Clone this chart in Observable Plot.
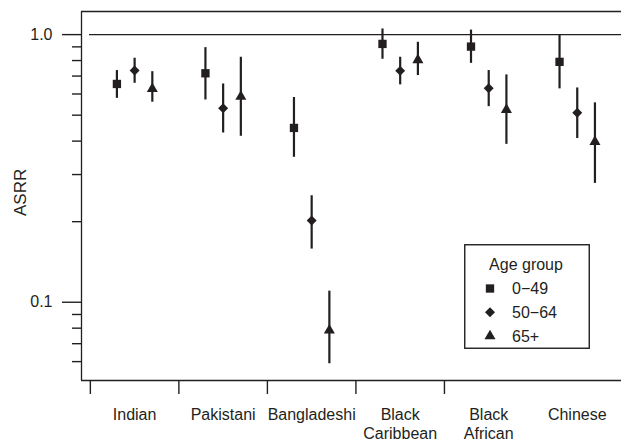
<!DOCTYPE html>
<html>
<head>
<meta charset="utf-8">
<script src="https://cdn.jsdelivr.net/npm/d3@7"></script>
<script src="https://cdn.jsdelivr.net/npm/@observablehq/plot@0.6"></script>
<style>
  html, body { margin: 0; padding: 0; background: #fff; overflow: hidden; }
  #wrap { position: relative; width: 621px; height: 441px; }
  #legend { position: absolute; left: 464px; top: 244px; }
</style>
</head>
<body>
<div id="wrap"><div id="chart"></div><div id="legend"></div></div>
<script>
// ---- data ----
const groups = ["Indian", "Pakistani", "Bangladeshi", "Black Caribbean", "Black African", "Chinese"];
const groupLabels = ["Indian", "Pakistani", "Bangladeshi", "Black\nCaribbean", "Black\nAfrican", "Chinese"];
const ageGroups = ["0\u221249", "50\u221264", "65+"];
const ageSymbols = ["square", "diamond2", "triangle"];

const asrr0_49 = [0.654, 0.717, 0.448, 0.923, 0.902, 0.791];
const lo0_49   = [0.578, 0.570, 0.348, 0.809, 0.781, 0.627];
const hi0_49   = [0.734, 0.894, 0.582, 1.05, 1.04, 1.0];

const asrr50_64 = [0.734, 0.531, 0.202, 0.732, 0.630, 0.511];
const lo50_64   = [0.658, 0.429, 0.158, 0.649, 0.538, 0.409];
const hi50_64   = [0.816, 0.654, 0.250, 0.823, 0.734, 0.632];

const asrr65 = [0.627, 0.587, 0.0785, 0.804, 0.524, 0.398];
const lo65   = [0.559, 0.417, 0.0589, 0.703, 0.389, 0.278];
const hi65   = [0.727, 0.823, 0.110, 0.936, 0.707, 0.556];

const yMajorTicks = [0.1, 1];
const yMinorTicks = [0.06, 0.07, 0.08, 0.09, 0.2, 0.3, 0.4, 0.5, 0.6, 0.7, 0.8, 0.9];
const referenceValue = [1];

// ---- table built from the arrays ----
const series = [
  {age: ageGroups[0], v: asrr0_49, lo: lo0_49, hi: hi0_49},
  {age: ageGroups[1], v: asrr50_64, lo: lo50_64, hi: hi50_64},
  {age: ageGroups[2], v: asrr65, lo: lo65, hi: hi65}
];
const offsets = [-0.2, 0, 0.2];
const rows = [];
series.forEach((s, ai) => {
  groups.forEach((g, gi) => {
    rows.push({group: g, age: s.age, ai, x: gi + offsets[ai], value: s.v[gi], lo: s.lo[gi], hi: s.hi[gi]});
  });
});

const ink = "#231f20";
const font = "'Liberation Sans', Arial, Helvetica, sans-serif";
const xDomain = [-0.6, groups.length - 0.5];
const yDomain = [0.051, 1.22];
const dotR = [4.7, 4.5, 4.1];

const centers = d3.range(groups.length);
const boundaries = d3.range(groups.length - 1).map(i => i - 0.5);

const chart = Plot.plot({
  width: 621,
  height: 441,
  marginLeft: 81,
  marginRight: 0,
  marginTop: 11,
  marginBottom: 61,
  style: {fontFamily: font, fontSize: "16px", color: ink, background: "white"},
  x: {type: "linear", domain: xDomain, axis: null},
  y: {type: "log", domain: yDomain, axis: null},
  marks: [
    // frame (left, top, bottom)
    Plot.ruleX([xDomain[0]], {stroke: ink, strokeWidth: 1.3}),
    Plot.ruleY(yDomain, {stroke: ink, strokeWidth: 1.3}),
    // reference line at 1
    Plot.ruleY(referenceValue, {stroke: ink, strokeWidth: 1.3, insetLeft: 8}),
    // y axis
    Plot.axisY(yMajorTicks, {tickSize: 19, tickPadding: 10, tickFormat: d => d.toFixed(1), fontSize: 16, stroke: ink, strokeWidth: 1.4, fill: ink, label: null}),
    Plot.axisY(yMinorTicks, {tickSize: 9, tickFormat: () => "", stroke: ink, strokeWidth: 1.4, label: null}),
    Plot.text(["ASRR"], {text: d => d, frameAnchor: "left", dx: -61, dy: 20, rotate: -90, fontSize: 17, fill: ink}),
    // x axis
    Plot.axisX(boundaries, {tickSize: 14, tickFormat: () => "", stroke: ink, strokeWidth: 1.4, label: null}),
    Plot.axisX(centers, {tickSize: 0, tickPadding: 26, tickFormat: i => groupLabels[i], lineHeight: 1.2, fontSize: 16, fill: ink, label: null}),
    // error bars
    Plot.ruleX(rows, {x: "x", y1: "lo", y2: "hi", stroke: ink, strokeWidth: 2.2}),
    // points
    ...ageGroups.map((a, ai) => Plot.dot(rows.filter(d => d.ai === ai), {
      x: "x", y: "value", symbol: () => ageSymbols[ai], r: dotR[ai], fill: ink, stroke: "none"
    }))
  ]
});
document.getElementById("chart").appendChild(chart);

// ---- legend ----
const lw = 126, lh = 105;
const lsvg = d3.select("#legend").append("svg")
  .attr("width", lw).attr("height", lh)
  .style("font-family", font).style("font-size", "16px").style("display", "block");
lsvg.append("rect").attr("x", 0.75).attr("y", 0.75).attr("width", lw - 1.5).attr("height", lh - 1.5)
  .attr("fill", "white").attr("stroke", ink).attr("stroke-width", 1.4);
lsvg.append("text").attr("x", 62).attr("y", 25.5).attr("text-anchor", "middle").attr("fill", ink).text("Age group");
const d3Symbols = [d3.symbolSquare, d3.symbolDiamond2, d3.symbolTriangle];
ageGroups.forEach((a, i) => {
  const cy = 44.5 + i * 23.8;
  lsvg.append("path")
    .attr("transform", `translate(26,${cy})`)
    .attr("d", d3.symbol(d3Symbols[i], Math.PI * dotR[i] * dotR[i])())
    .attr("fill", ink);
  lsvg.append("text").attr("x", 48).attr("y", cy + 5.8).attr("fill", ink).text(a);
});
</script>
</body>
</html>
